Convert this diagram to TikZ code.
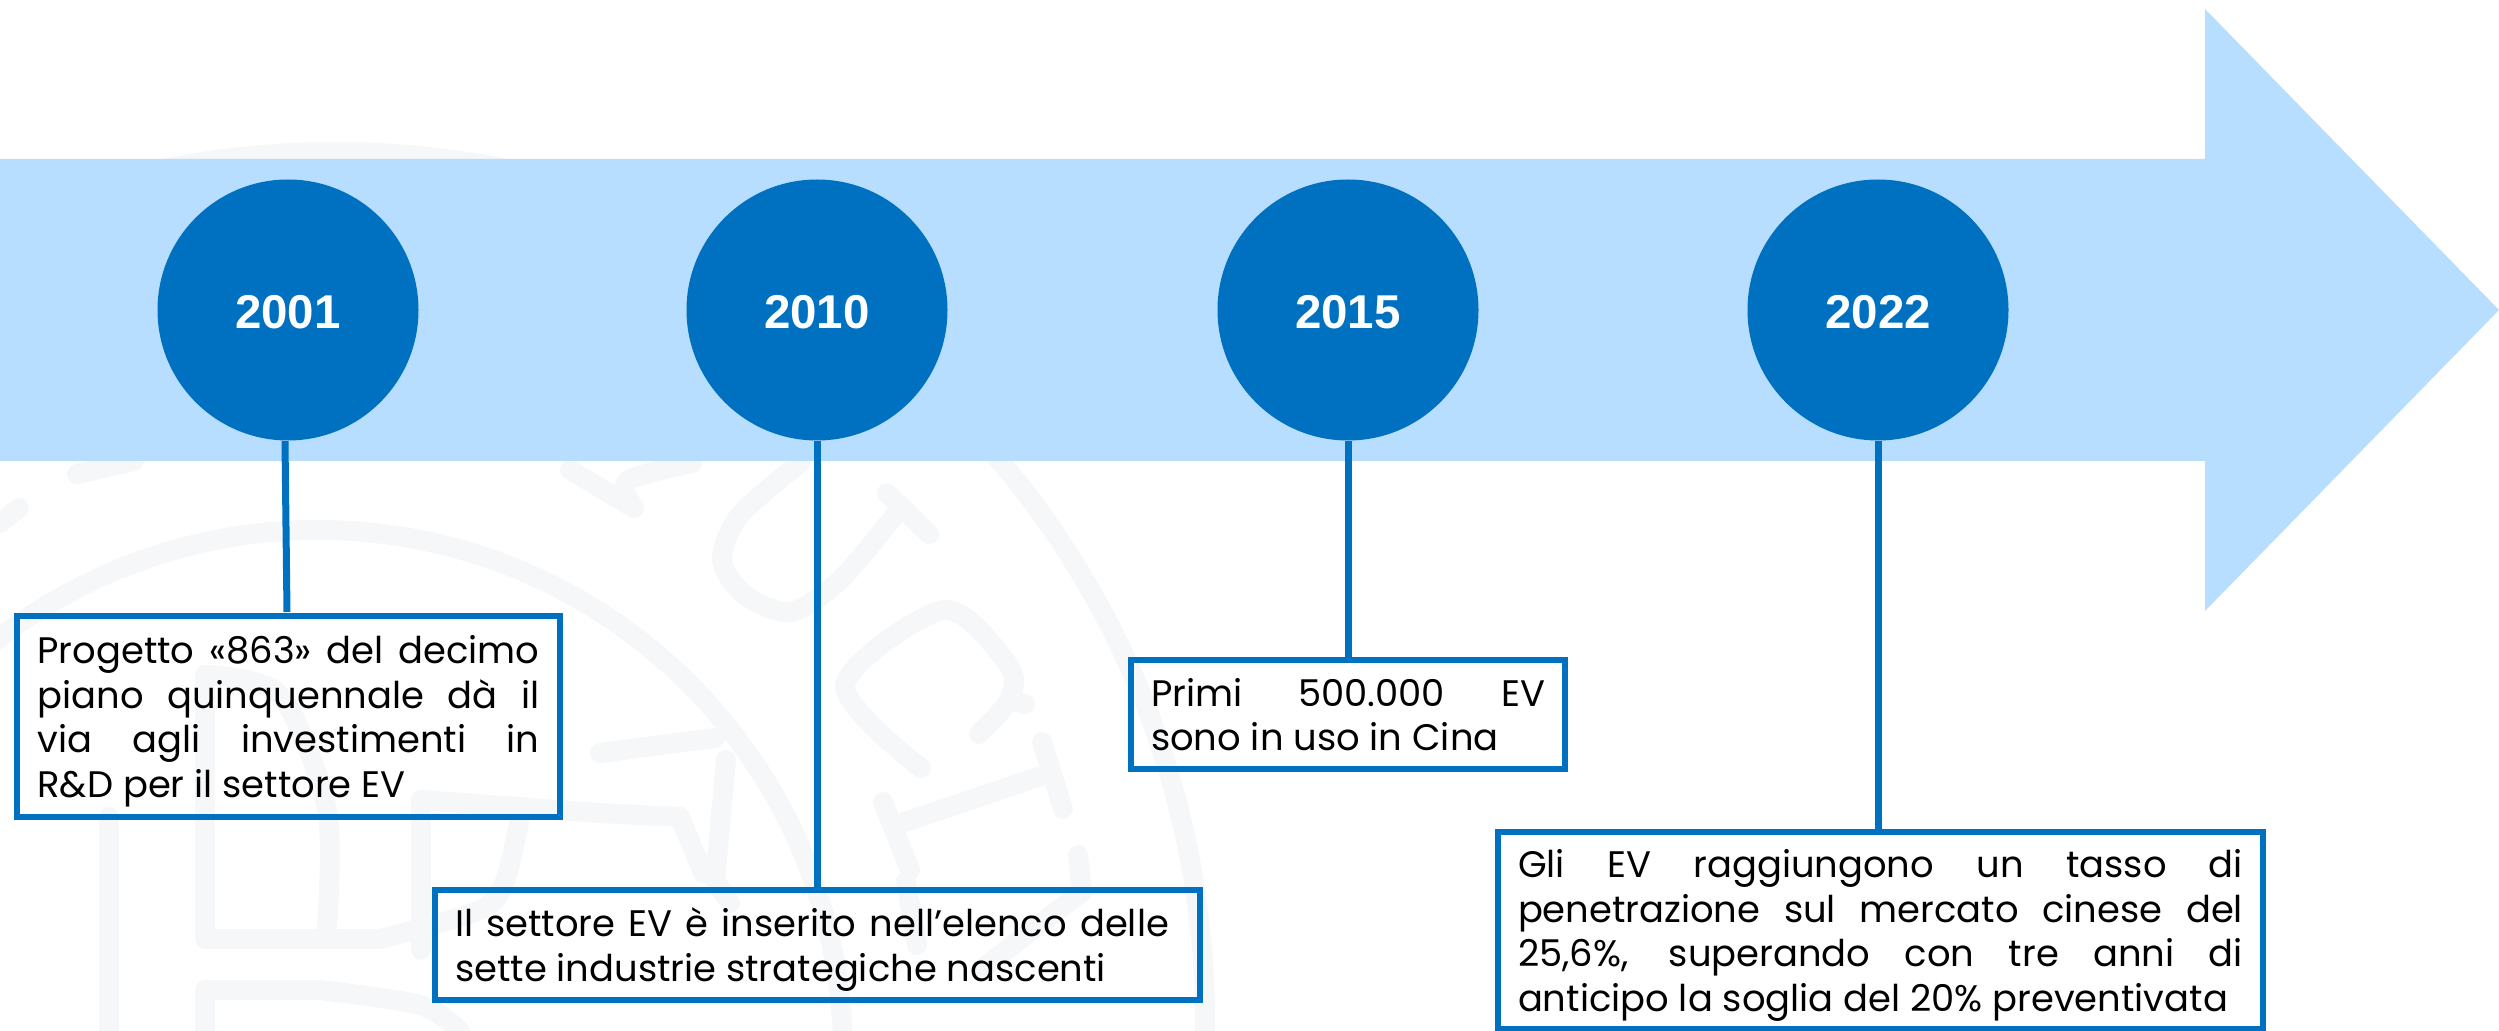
\documentclass[tikz,border=0pt]{standalone}
\usepackage{fontspec}
\setmainfont{Poppins}
\newfontfamily\yearfont{Liberation Sans}[BoldFont={Liberation Sans Bold}]
\definecolor{bandblue}{HTML}{B7DEFE}
\definecolor{darkblue}{HTML}{0070C0}
\definecolor{wmgrey}{HTML}{F6F7F9}

\begin{document}
\begin{tikzpicture}
\tikzstyle{wmark}=[draw=wmgrey,line width=0.2cm,line cap=round,line join=round]
\tikzstyle{year}=[circle,fill=darkblue,minimum size=2.61cm,inner sep=0pt,text=white,text height=0.38cm,font=\yearfont\fontsize{13.5}{15}\selectfont\bfseries]
\tikzstyle{cell}=[rectangle,draw=darkblue,line width=0.06cm,inner xsep=0.2cm,inner ysep=0pt,align=justify,font=\fontsize{10.5}{12.66}\selectfont]
\tikzstyle{lowcell}=[cell,execute at begin node={\rule{0pt}{0.38cm}}]
\tikzstyle{stem}=[draw=darkblue,line width=0.07cm]

\useasboundingbox (0,0) rectangle (24.99,-10.31);

\draw[wmark] (3.18,-10.55) circle (5.25);
\draw[wmark] (3.35,-10.22) circle (8.70);
\draw[wmark] plot[smooth] coordinates {(8.00,-4.63) (7.40,-5.15) (7.22,-5.60) (7.45,-5.95) (7.91,-6.12) (8.40,-5.80) (8.95,-5.15)};
\draw[wmark] (8.87,-4.93) -- (9.29,-5.34);
\draw[wmark] plot[smooth] coordinates {(6.92,-4.63) (6.27,-4.81) (6.34,-5.08)};
\draw[wmark] (5.70,-4.70) -- (6.34,-5.08);
\draw[wmark] (0.77,-4.74) -- (1.34,-4.61);
\draw[wmark] (0,-5.23) -- (0.19,-5.08);
\draw[wmark] plot[smooth] coordinates {(9.79,-7.34) (10.09,-7.00) (10.09,-6.66) (9.44,-6.10) (8.45,-6.85) (9.21,-7.68)};
\draw[wmark] (10.09,-7.00) -- (10.25,-7.04);
\draw[wmark] (10.42,-7.42) -- (10.63,-8.09);
\draw[wmark] (8.83,-8.02) -- (9.10,-8.70);
\draw[wmark] (10.44,-7.75) -- (8.99,-8.24);
\draw[wmark] (10.78,-8.55) -- (10.82,-8.92) -- (9.83,-9.68);
\draw[wmark] (9.06,-8.81) -- (9.17,-9.45);

\draw[wmark] (1.09,-8.17) -- (1.09,-10.31);
\draw[wmark] plot[smooth] coordinates {(3.27,-9.25) (3.27,-8.10) (2.80,-6.95) (2.05,-6.75)};
\draw[wmark] (2.05,-6.75) -- (2.05,-9.39) -- (3.80,-9.39);
\draw[wmark] plot[smooth] coordinates {(3.80,-9.39) (4.80,-9.10) (5.05,-8.81) (5.20,-8.17)};
\draw[wmark] (2.05,-10.31) -- (2.05,-9.90) -- (3.20,-9.90);
\draw[wmark] plot[smooth] coordinates {(3.20,-9.90) (4.20,-10.05) (4.60,-10.31)};
\draw[wmark] (4.21,-9.50) -- (4.21,-8.00) -- (6.00,-8.13) -- (6.80,-8.17) -- (7.03,-8.73);
\draw[wmark] (6.00,-7.53) -- (7.15,-7.38);
\draw[wmark] (7.26,-7.60) -- (7.15,-8.81) -- (7.30,-9.03);

\fill[bandblue] (0,-1.59) -- (22.05,-1.59) -- (22.05,-0.09) -- (24.99,-3.10) -- (22.05,-6.11) -- (22.05,-4.61) -- (0,-4.61) -- cycle;

\node[year] (y2001) at (2.88,-3.10) {2001};
\node[year] (y2010) at (8.17,-3.10) {2010};
\node[year] (y2015) at (13.48,-3.10) {2015};
\node[year] (y2022) at (18.78,-3.10) {2022};

\node[lowcell,text width=5.02cm,minimum height=2.01cm] (t2001) at (2.885,-7.165)
  {Progetto «863» del decimo\linebreak piano quinquennale dà il\linebreak via agli investimenti in\linebreak R\&D per il settore EV};
\node[lowcell,text width=7.25cm,minimum height=1.10cm] (t2010) at (8.175,-9.45)
  {\makebox[7.14cm][s]{Il settore EV è inserito nell’elenco delle}\\ sette industrie strategiche nascenti};
\node[cell,text width=3.94cm,minimum height=1.09cm] (t2015) at (13.48,-7.145)
  {Primi 500.000 EV\linebreak sono in uso in Cina};
\node[lowcell,text width=7.25cm,minimum height=1.97cm] (t2022) at (18.805,-9.305)
  {Gli EV raggiungono un tasso di\linebreak penetrazione sul mercato cinese del\linebreak 25,6\%, superando con tre anni di\linebreak anticipo la soglia del 20\% preventivata};

\draw[stem] ([xshift=-0.03cm]y2001.south) -- ([xshift=-0.015cm,yshift=0.01cm]t2001.north);
\draw[stem] (y2010.south) -- (y2010.south |- t2010.north);
\draw[stem] (y2015.south) -- (y2015.south |- t2015.north);
\draw[stem] (y2022.south) -- (y2022.south |- t2022.north);

\end{tikzpicture}
\end{document}
